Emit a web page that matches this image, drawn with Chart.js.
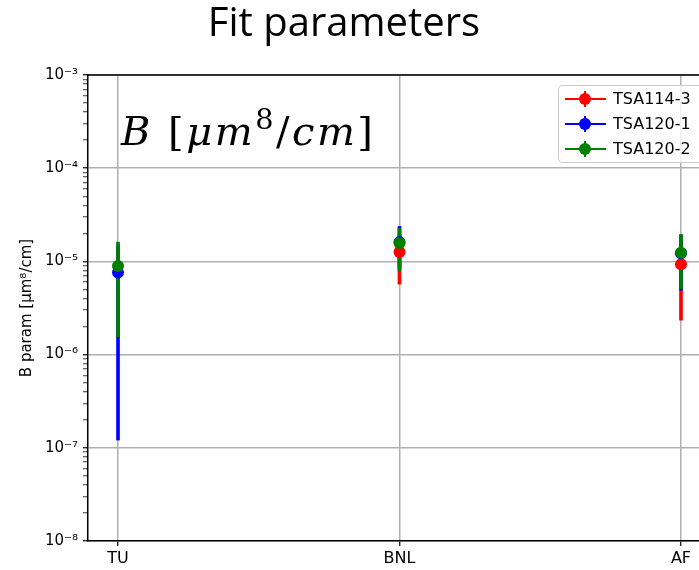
<!DOCTYPE html>
<html><head><meta charset="utf-8">
<script src="https://cdn.jsdelivr.net/npm/chart.js@4.4.1/dist/chart.umd.min.js"></script>
<style>
html,body{margin:0;padding:0;overflow:hidden;background:#fff;width:699px;height:570px}
#wrap{position:relative;width:730px;height:570px}
#c{position:absolute;left:0;top:0}
#title{position:absolute;left:0;width:688px;top:1px;text-align:center;font-family:'Open Sans';font-size:40px;line-height:1;color:#000;white-space:nowrap}
#anno{position:absolute;left:121px;top:111px;font-family:'DejaVu Serif';font-size:40px;line-height:1;white-space:nowrap;color:#000;letter-spacing:2.5px}
#anno i{font-style:italic}
#anno sup{font-size:0.72em;vertical-align:0.55em;line-height:0}
#legend{position:absolute;left:558px;top:85px;width:146px;height:78px;border:1px solid #ccc;border-radius:4px;background:rgba(255,255,255,0.8);box-sizing:border-box}
.item{position:absolute;left:0;width:146px;height:24px}
.ln{position:absolute;left:6px;width:41px;height:2px;top:11px}
.vb{position:absolute;left:25px;width:2px;height:16px;top:4px}
.dt{position:absolute;left:20px;width:12px;height:12px;top:6px;border-radius:50%}
.tx{position:absolute;left:54px;top:3px;font-family:'DejaVu Sans';font-size:16px;line-height:18px;color:#000;white-space:nowrap}
</style></head>
<body>
<div id="wrap">
<canvas id="c" width="730" height="570"></canvas>
<div id="title">Fit parameters</div>
<div id="anno"><i>B</i> [<i>μm</i><sup>8</sup>/<i>cm</i>]</div>
<div id="legend"></div>
</div>
<script>
// ---- data ----
const categories = ['TU', 'BNL', 'AF'];
const seriesNames = ['TSA114-3', 'TSA120-1', 'TSA120-2'];
const seriesColors = ['#ff0000', '#0000ff', '#008000'];

const tsa114_3    = [null, 1.26e-5, 9.3e-6];
const tsa114_3_lo = [null, 5.7e-6, 2.34e-6];
const tsa114_3_hi = [null, 1.95e-5, 1.63e-5];

const tsa120_1    = [7.6e-6, 1.61e-5, 1.22e-5];
const tsa120_1_lo = [1.21e-7, 8.5e-6, 4.9e-6];
const tsa120_1_hi = [1.5e-5, 2.37e-5, 1.9e-5];

const tsa120_2    = [8.9e-6, 1.58e-5, 1.24e-5];
const tsa120_2_lo = [1.56e-6, 7.9e-6, 5.09e-6];
const tsa120_2_hi = [1.61e-5, 2.26e-5, 1.95e-5];

const yTickValues = [1e-8, 1e-7, 1e-6, 1e-5, 1e-4, 1e-3];
const yTickLabels = ['10⁻⁸', '10⁻⁷', '10⁻⁶', '10⁻⁵', '10⁻⁴', '10⁻³'];
const yTitle = 'B param [μm⁸/cm]';

// ---- build datasets ----
const values = [tsa114_3, tsa120_1, tsa120_2];
const lows = [tsa114_3_lo, tsa120_1_lo, tsa120_2_lo];
const highs = [tsa114_3_hi, tsa120_1_hi, tsa120_2_hi];

const datasets = [];
values.forEach((vals, s) => {
  datasets.push({
    type: 'bar',
    label: seriesNames[s] + ' error',
    data: vals.map((v, i) => v == null ? null : {x: i, y: [lows[s][i], highs[s][i]]}).filter(d => d),
    backgroundColor: seriesColors[s],
    borderWidth: 0,
    barThickness: 3,
    grouped: false,
    order: 6 - s
  });
});
values.forEach((vals, s) => {
  datasets.push({
    type: 'line',
    label: seriesNames[s],
    data: vals.map((v, i) => v == null ? null : {x: i, y: v}).filter(d => d),
    showLine: false,
    pointRadius: 6,
    pointHoverRadius: 6,
    pointBorderWidth: 0,
    pointBackgroundColor: seriesColors[s],
    backgroundColor: seriesColors[s],
    borderColor: seriesColors[s],
    order: 3 - s
  });
});

// legend (HTML)
const leg = document.getElementById('legend');
seriesNames.forEach((n, s) => {
  const it = document.createElement('div');
  it.className = 'item';
  it.style.top = (1 + s * 25) + 'px';
  it.innerHTML = `<div class="ln" style="background:${seriesColors[s]}"></div>` +
    `<div class="vb" style="background:${seriesColors[s]}"></div>` +
    `<div class="dt" style="background:${seriesColors[s]}"></div>` +
    `<div class="tx">${n}</div>`;
  leg.appendChild(it);
});

const isMajor = v => Math.abs(Math.log10(v) - Math.round(Math.log10(v))) < 1e-6;

const frameTop = {
  id: 'frameTop',
  beforeDatasetsDraw(chart) {
    const {ctx, chartArea: a} = chart;
    ctx.save();
    ctx.strokeStyle = '#000';
    ctx.lineWidth = 1.5;
    ctx.beginPath();
    ctx.moveTo(a.left, a.top);
    ctx.lineTo(a.right, a.top);
    ctx.stroke();
    ctx.restore();
  }
};

new Chart(document.getElementById('c'), {
  data: {datasets},
  options: {
    responsive: false,
    animation: false,
    devicePixelRatio: 1,
    events: [],
    layout: {padding: {top: 75, right: 19, left: 0, bottom: 0}},
    plugins: {legend: {display: false}, tooltip: {enabled: false}},
    scales: {
      x: {
        type: 'linear',
        offset: false,
        min: -0.1066,
        max: 2.1066,
        afterBuildTicks: s => { s.ticks = categories.map((c, i) => ({value: i})); },
        afterFit: s => { s.height = 29; },
        ticks: {
          callback: (v, i) => categories[i],
          font: {family: 'DejaVu Sans', size: 16},
          color: '#000',
          padding: 3,
          autoSkip: false,
          maxRotation: 0
        },
        grid: {offset: false, color: '#b0b0b0', lineWidth: 1.5, tickColor: '#000', tickLength: 5, tickWidth: 1.2},
        border: {color: '#000', width: 1.5}
      },
      y: {
        type: 'logarithmic',
        min: 1e-8,
        max: 1e-3,
        afterBuildTicks: s => {
          const t = [];
          yTickValues.forEach((m, k) => {
            t.push({value: m});
            if (k < yTickValues.length - 1) for (let j = 2; j <= 9; j++) t.push({value: m * j});
          });
          s.ticks = t;
        },
        afterFit: s => { s.width = 88; },
        ticks: {
          callback: v => {
            if (!isMajor(v)) return '';
            let best = 0;
            yTickValues.forEach((m, k) => { if (Math.abs(Math.log10(m) - Math.log10(v)) < 1e-6) best = k; });
            return yTickLabels[best];
          },
          font: {family: 'DejaVu Sans', size: 15},
          color: '#000',
          padding: 5,
          autoSkip: false
        },
        grid: {
          color: c => isMajor(c.tick.value) ? '#b0b0b0' : 'rgba(0,0,0,0)',
          lineWidth: 1.5,
          tickColor: '#000',
          tickLength: 5,
          tickWidth: c => isMajor(c.tick.value) ? 1.2 : 0.8
        },
        border: {color: '#000', width: 1.5},
        title: {
          display: true,
          text: yTitle,
          font: {family: 'DejaVu Sans', size: 15},
          color: '#000',
          padding: {top: 18, bottom: 0}
        }
      }
    }
  },
  plugins: [frameTop]
});
</script>
</body></html>
